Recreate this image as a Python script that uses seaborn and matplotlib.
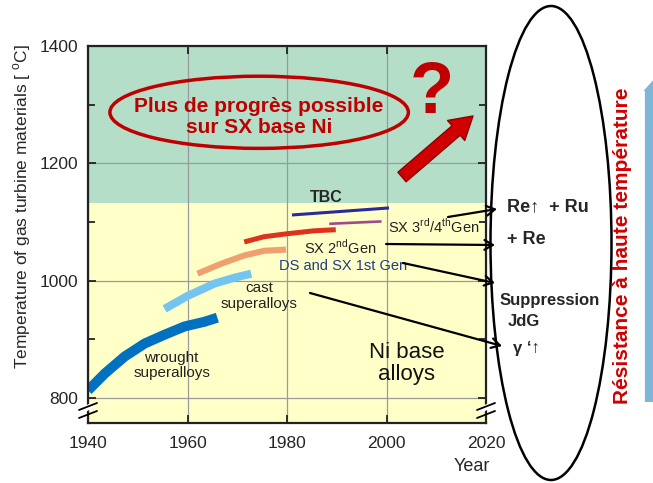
import pandas as pd
import matplotlib
matplotlib.use("Agg")
import matplotlib.pyplot as plt
from matplotlib.patches import Ellipse, FancyArrowPatch
import seaborn as sns

# alloy generations: year -> max material temperature (deg C)
wrought_year = [1940, 1943.4, 1947.4, 1951.4, 1955.4, 1959.4, 1963.4, 1966]
wrought_temp = [813, 842, 871, 893, 908, 922, 930, 937]
cast_year = [1955.4, 1960, 1965.4, 1969.4, 1972.8]
cast_temp = [952, 974, 995, 1005, 1012]
ds_year = [1962, 1966.8, 1971.4, 1975.4, 1979.8]
ds_temp = [1012, 1029, 1043, 1051, 1053]
sx2_year = [1971.4, 1975.4, 1980, 1985.4, 1989.8]
sx2_temp = [1066, 1075, 1080, 1085, 1087]
sx34_year = [1988.5, 1999]
sx34_temp = [1097, 1101]
tbc_year = [1981, 2000.5]
tbc_temp = [1112, 1124]

series_colors = {"wrought": "#0070C0", "cast": "#74C4F0", "ds": "#F0A070",
                 "sx2": "#E0301E", "sx34": "#A04A8C", "tbc": "#2A2A9A"}
series_widths = {"wrought": 7.2, "cast": 5.8, "ds": 4.4,
                 "sx2": 3.6, "sx34": 1.9, "tbc": 2.2}

frames = []
for name, yrs, tmp in [("wrought", wrought_year, wrought_temp),
                       ("cast", cast_year, cast_temp),
                       ("ds", ds_year, ds_temp),
                       ("sx2", sx2_year, sx2_temp),
                       ("sx34", sx34_year, sx34_temp),
                       ("tbc", tbc_year, tbc_temp)]:
    frames.append(pd.DataFrame({"year": yrs, "temp": tmp, "series": name}))
df = pd.concat(frames, ignore_index=True)

Y_MIN, Y_MAX = 757.5, 1400
LIMIT_NI = 1132

sns.set_style("ticks")
plt.rcParams["font.family"] = ["Liberation Sans", "DejaVu Sans"]
plt.rcParams["mathtext.fontset"] = "custom"
plt.rcParams["mathtext.rm"] = "Liberation Sans"

fig = plt.figure(figsize=(6.53, 4.83), dpi=100)
ax = fig.add_axes([88 / 653, 1 - 423 / 483, 398 / 653, 377 / 483])

ax.axhspan(Y_MIN, LIMIT_NI, color="#FFFFC8", zorder=0, lw=0)
ax.axhspan(LIMIT_NI, Y_MAX, color="#B5DEC9", zorder=0, lw=0)

sns.lineplot(data=df, x="year", y="temp", hue="series", size="series",
             palette=series_colors, sizes=series_widths, sort=False,
             estimator=None, legend=False, ax=ax)
for line in ax.lines:
    line.set_solid_capstyle("butt")
    line.set_solid_joinstyle("round")

ax.set_xlim(1940, 2020)
ax.set_ylim(Y_MIN, Y_MAX)
ax.set_xticks([1940, 1960, 1980, 2000, 2020])
ax.set_yticks([800, 1000, 1200, 1400])
ax.set_yticks([900, 1100, 1300], minor=True)
ax.tick_params(which="both", direction="in", top=True, right=True,
               length=6, width=1.3, labelsize=12.5, color="#222222")
ax.tick_params(which="minor", length=5)
ax.tick_params(axis="x", pad=9)
ax.tick_params(axis="y", pad=7)
ax.grid(True, color="#9a9a9a", lw=0.9)
ax.set_axisbelow(True)
for s in ax.spines.values():
    s.set_linewidth(1.6)
    s.set_color("#222222")

ax.set_ylabel("Temperature of gas turbine materials [ $^{\\rm o}$C]", fontsize=12.5)
ax.yaxis.set_label_coords(-0.138, 0.573)
ax.set_xlabel("Year", fontsize=13)
ax.xaxis.set_label_coords((472 - 88) / 398, -0.094)

# labels for curves
ax.text(1987.8, 1142, "TBC", fontsize=11.5, fontweight="bold", ha="center", va="center")
ax.text(2000.4, 1092, "SX 3$^{\\rm rd}$/4$^{\\rm th}$Gen", fontsize=10.5,
        color="#222222", va="center")
ax.text(1983.4, 1057, "SX 2$^{\\rm nd}$Gen", fontsize=10.5, color="#222222", va="center")
ax.text(1978.4, 1025, "DS and SX 1st Gen", fontsize=10.5, color="#1F3C88", va="center")
ax.text(1974.4, 974, "cast\nsuperalloys", fontsize=11, color="#222222",
        ha="center", va="center", linespacing=1.1)
ax.text(1956.8, 855, "wrought\nsuperalloys", fontsize=11, color="#222222",
        ha="center", va="center", linespacing=1.1)
ax.text(2004, 859, "Ni base\nalloys", fontsize=16, color="#111111",
        ha="center", va="center", linespacing=1.1)

ax.add_patch(Ellipse((1974.4, 1287), 60, 123, fill=False, ec="#C00000", lw=2.5))
ax.text(1974.4, 1279, "Plus de progrès possible\nsur SX base Ni", fontsize=15,
        fontweight="bold", color="#C00000", ha="center", va="center", linespacing=1.12)
ax.text(2009, 1318, "?", fontsize=52, fontweight="bold", color="#C00000",
        ha="center", va="center")

# overlay in pixel coordinates for the decorations
ov = fig.add_axes([0, 0, 1, 1], zorder=5)
ov.set_xlim(0, 653)
ov.set_ylim(483, 0)
ov.axis("off")
ov.patch.set_alpha(0)

ov.add_patch(FancyArrowPatch((402, 177), (473, 116),
             arrowstyle="simple,head_length=1.6,head_width=1.9,tail_width=0.9",
             mutation_scale=10, fc="#D00000", ec="#8B0000", lw=1,
             shrinkA=0, shrinkB=0))

ov.add_patch(Ellipse((551, 243), 121, 474, fill=False, ec="black", lw=1.8))

for start, end in [((448, 217), (497, 209)), ((386, 244), (495, 245)),
                   ((403, 263), (495, 283)), ((310, 293), (502, 346))]:
    ov.annotate("", xy=end, xytext=start,
                arrowprops=dict(arrowstyle="->,head_length=0.6,head_width=0.35",
                                lw=1.6, color="black", shrinkA=0, shrinkB=0))

ov.text(507, 207, "Re\u2191  + Ru", fontsize=13, fontweight="bold", va="center")
ov.text(507, 240, "+ Re", fontsize=13, fontweight="bold", va="center")
ov.text(500, 301, "Suppression", fontsize=12, fontweight="bold", va="center")
ov.text(508, 321, "JdG", fontsize=12, fontweight="bold", va="center")
ov.text(513, 348, "\u03b3 \u2018\u2191", fontsize=12, fontweight="bold", va="center")

ov.text(623, 246, "Résistance à haute température", rotation=90, color="#D00000",
        fontsize=15, fontweight="bold", ha="center", va="center")

ov.add_patch(FancyArrowPatch((656, 402), (656, 77),
             arrowstyle="simple,head_length=1.0,head_width=1.8,tail_width=1.6",
             mutation_scale=10, fc="#7EB6D6", ec="none", shrinkA=0, shrinkB=0))

# axis break marks
for x0 in (79, 477):
    ov.plot([x0 + 2, x0 + 16], [411, 404], color="white", lw=4, solid_capstyle="butt")
    ov.plot([x0, x0 + 18], [410, 403], color="black", lw=1.3)
    ov.plot([x0, x0 + 18], [418, 411], color="black", lw=1.3)

fig.savefig("out.png", dpi=100)
